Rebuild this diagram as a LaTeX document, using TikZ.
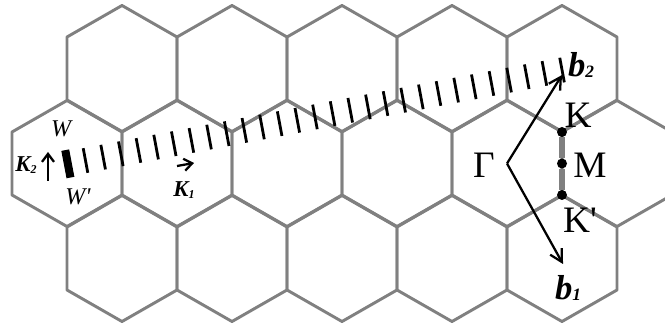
\documentclass[tikz,border=0pt]{standalone}
\usepackage{fontspec}
\setmainfont{Liberation Serif}
\usetikzlibrary{arrows.meta,calc,positioning}
\tikzset{
  hexcell/.style ={draw=gray, line width=2.2pt, line join=round},
  bzedge/.style  ={draw=gray, line width=3.8pt},
  bzdot/.style   ={circle, fill=black, inner sep=0pt, minimum size=7.5pt},
  bzlabel/.style ={inner sep=0pt, font=\fontsize{28}{30}\selectfont},
  veclabel/.style={inner sep=0pt, font=\fontsize{26}{28}\selectfont\bfseries\itshape},
  wlabel/.style  ={inner sep=0pt, font=\fontsize{18}{20}\selectfont\itshape},
  klabel/.style  ={inner sep=0pt, font=\fontsize{17}{19}\selectfont\bfseries\itshape},
  recvec/.style  ={-{Straight Barb[length=9pt,width=10pt]}, line width=1.7pt},
  kvec/.style    ={-{Straight Barb[length=6pt,width=9pt]}, line width=1.7pt},
  hatch/.style   ={line width=2.1pt},
  wbar/.style    ={line width=6pt}
}
\newcommand{\lowsub}[2]{\raisebox{-1pt}{\fontsize{#1}{#1}\selectfont #2}}

\begin{document}
\begin{tikzpicture}[x=0.75pt, y=-0.75pt]
  \useasboundingbox (0,0) rectangle (665,324);
  \clip (0,0) rectangle (665,324);
  % honeycomb, three rows
  \foreach \cx/\cy in {122/68.5, 232/68.5, 342/68.5, 452/68.5, 562/68.5,
                       67/163.5, 177/163.5, 287/163.5, 397/163.5, 507/163.5, 617/163.5,
                       122/258.5, 232/258.5, 342/258.5, 452/258.5, 562/258.5}
    \draw[hexcell, shift={(\cx,\cy)}] (0,-63) -- (55,-31.5) -- (55,31.5)
      -- (0,63) -- (-55,31.5) -- (-55,-31.5) -- cycle;

  % domain wall W-W' and its hatching
  \coordinate (W0) at (67.85,163.85);
  \draw[wbar] (W0) ++(-2.6,-13.7) -- ++(5.2,27.4);
  \foreach \i in {1,...,28}
    \draw[hatch] ($(W0)+\i*(17.65,-3.35)$) ++(-2.3,-12.3) -- ++(4.6,24.6);

  \node[wlabel] (W)  at (61,129) {W};
  \node[wlabel] (Wp) at (78,197) {W\textquotesingle};
  \node[klabel] (K2) at (26,165) {K\lowsub{9}{2}};
  \node[klabel] (K1) at (184,190) {K\lowsub{9}{1}};
  \coordinate (k2s) at (48,181); \coordinate (k2e) at (48,152);
  \coordinate (k1s) at (177,166); \coordinate (k1e) at (194,163);
  \draw[kvec] (k2s) -- (k2e);
  \draw[kvec] (k1s) -- (k1e);

  % Brillouin zone corner
  \coordinate (G)   at (507,163.5);
  \coordinate (b2e) at (562,75);
  \coordinate (b1e) at (563,264);
  \draw[recvec] (G) -- (b2e);
  \draw[recvec] (G) -- (b1e);
  \node[bzdot] (K)  at (562,132) {};
  \node[bzdot] (M)  at (562,163.5) {};
  \node[bzdot] (Kp) at (562,195) {};
  \draw[bzedge] (K) -- (M); \draw[bzedge] (M) -- (Kp);

  \node[bzlabel] (Klab)  at (578,115) {K};
  \node[bzlabel] (Mlab)  at (590,165) {M};
  \node[bzlabel] (Kplab) at (580,220) {K\textquotesingle};
  \node[bzlabel] (Glab)  at (484,165) {Γ};
  \node[veclabel] (b2) at (581,65) {b\lowsub{13}{2}};
  \node[veclabel] (b1) at (568,288) {b\lowsub{13}{1}};
\end{tikzpicture}
\end{document}
